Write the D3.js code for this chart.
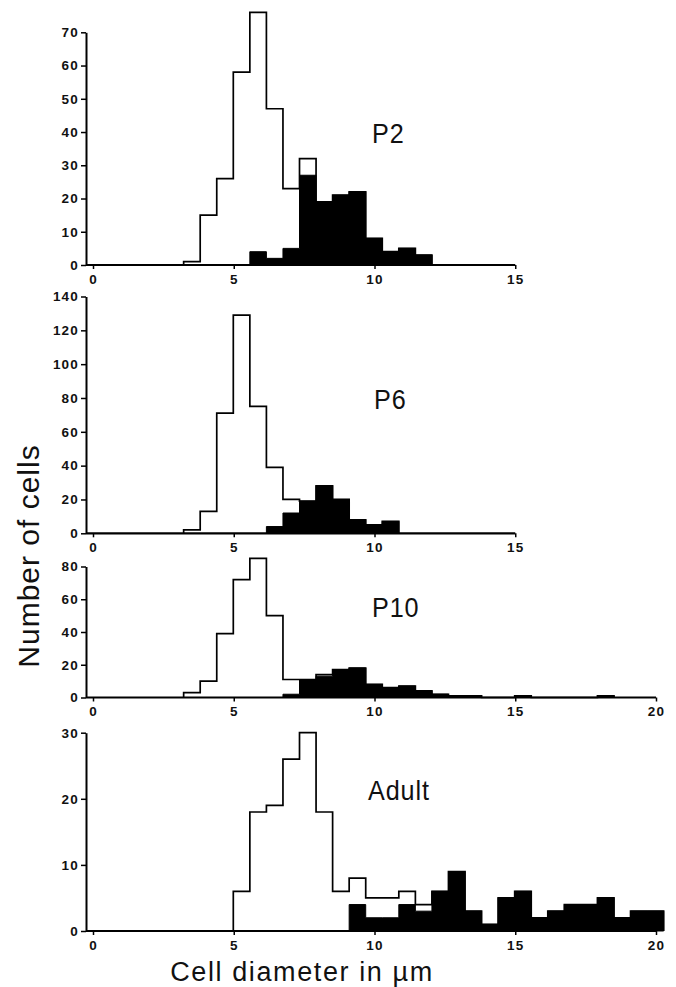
<!DOCTYPE html>
<html>
<head>
<meta charset="utf-8">
<script src="https://cdn.jsdelivr.net/npm/d3@7"></script>
<style>
  html, body { margin: 0; padding: 0; background: #fff; }
  svg { display: block; }
  .tick text { font-family: "Liberation Sans", Arial, sans-serif; font-size: 13.5px; font-weight: bold; letter-spacing: 1.2px; fill: #111; }
</style>
</head>
<body>
<div id="chart"></div>
<script>
// ---- Data (bins of 0.588 µm starting at 3.22 µm) ----
const binStart = 3.22;
const binWidth = 0.588;
const panelNames = ["P2", "P6", "P10", "Adult"];

// total cell counts per bin (open histogram)
const p2All    = [1, 15, 26, 58, 76, 47, 23, 32, 19, 21, 22, 8, 4, 5, 3];
const p6All    = [2, 13, 71, 129, 75, 39, 20, 19, 28, 20, 8, 5, 7];
const p10All   = [3, 10, 39, 72, 85, 50, 11, 11, 14, 17, 18, 8, 6, 7, 4, 2, 1, 1, 0, 0, 1, 0, 0, 0, 0, 1];
const adultAll = [0, 0, 0, 6, 18, 19, 26, 30, 18, 6, 8, 5, 5, 6, 4, 6, 9, 3, 1, 5, 6, 2, 3, 4, 4, 5, 2, 3, 3];

// large cells per bin (filled histogram)
const p2Large    = [0, 0, 0, 0, 4, 2, 5, 27, 19, 21, 22, 8, 4, 5, 3];
const p6Large    = [0, 0, 0, 0, 0, 4, 12, 19, 28, 20, 8, 5, 7];
const p10Large   = [0, 0, 0, 0, 0, 0, 2, 11, 13, 17, 18, 8, 6, 7, 4, 2, 1, 1, 0, 0, 1, 0, 0, 0, 0, 1];
const adultLarge = [0, 0, 0, 0, 0, 0, 0, 0, 0, 0, 4, 2, 2, 4, 3, 6, 9, 3, 1, 5, 6, 2, 3, 4, 4, 5, 2, 3, 3];

// axis ticks
const p2YTicks    = [0, 10, 20, 30, 40, 50, 60, 70];
const p6YTicks    = [0, 20, 40, 60, 80, 100, 120, 140];
const p10YTicks   = [0, 20, 40, 60, 80];
const adultYTicks = [0, 10, 20, 30];
const xTicks15 = [0, 5, 10, 15];
const xTicks20 = [0, 5, 10, 15, 20];

const xTitle = "Cell diameter in \u00b5m";
const yTitle = "Number of cells";

// ---- Layout ----
const W = 676, H = 987;
const svg = d3.select("#chart").append("svg").attr("width", W).attr("height", H);
const font = '"Liberation Sans", Arial, Helvetica, sans-serif';
const axisX = 86;

const x = d3.scaleLinear().domain([0, 20]).range([93, 656]);

const panels = [
  { name: panelNames[0], all: p2All, large: p2Large, yTicks: p2YTicks, xTicks: xTicks15, base: 265, top: 32.3, lx: 372, ly: 143 },
  { name: panelNames[1], all: p6All, large: p6Large, yTicks: p6YTicks, xTicks: xTicks15, base: 533.3, top: 296.5, lx: 374, ly: 409 },
  { name: panelNames[2], all: p10All, large: p10Large, yTicks: p10YTicks, xTicks: xTicks20, base: 697.5, top: 566.5, lx: 372, ly: 617 },
  { name: panelNames[3], all: adultAll, large: adultLarge, yTicks: adultYTicks, xTicks: xTicks20, base: 931, top: 732.7, lx: 368, ly: 800 }
];

function stepPoints(values) {
  let f = values.findIndex(v => v > 0);
  let l = values.length - 1;
  while (l > 0 && values[l] === 0) l--;
  const pts = [[binStart + f * binWidth, 0]];
  for (let i = f; i <= l; i++) pts.push([binStart + i * binWidth, values[i]]);
  pts.push([binStart + (l + 1) * binWidth, 0]);
  return pts;
}

panels.forEach(p => {
  const yMax = p.yTicks[p.yTicks.length - 1];
  const y = d3.scaleLinear().domain([0, yMax]).range([p.base, p.top]);
  const g = svg.append("g");

  // open histogram (all cells)
  const line = d3.line().x(d => x(d[0])).y(d => y(d[1])).curve(d3.curveStepAfter);
  g.append("path")
    .attr("d", line(stepPoints(p.all)))
    .attr("fill", "#fff")
    .attr("stroke", "#000")
    .attr("stroke-width", 1.7)
    .attr("stroke-linejoin", "miter");

  // filled histogram (large cells)
  const area = d3.area().x(d => x(d[0])).y0(y(0)).y1(d => y(d[1])).curve(d3.curveStepAfter);
  g.append("path")
    .attr("d", area(stepPoints(p.large)))
    .attr("fill", "#000")
    .attr("stroke", "#000")
    .attr("stroke-width", 1);

  // y axis
  const ya = g.append("g").attr("transform", `translate(${axisX},0)`)
    .call(d3.axisLeft(y).tickValues(p.yTicks).tickSize(5).tickPadding(2).tickSizeOuter(0));
  ya.select(".domain").attr("stroke-width", 2);
  ya.selectAll(".tick line").attr("stroke-width", 1.5);

  // x axis
  const xMax = p.xTicks[p.xTicks.length - 1];
  const xa = g.append("g").attr("transform", `translate(0,${p.base})`)
    .call(d3.axisBottom(x).tickValues(p.xTicks).tickSize(4).tickPadding(5).tickSizeOuter(0));
  xa.select(".domain").remove();
  xa.append("line").attr("x1", axisX).attr("x2", x(xMax)).attr("y1", 0).attr("y2", 0)
    .attr("stroke", "#000").attr("stroke-width", 2.2);
  xa.selectAll(".tick line").attr("stroke-width", 1.5);

  // panel label
  svg.append("text")
    .attr("transform", `translate(${p.lx},${p.ly}) scale(0.9,1)`)
    .attr("font-family", font).attr("font-size", 28)
    .attr("letter-spacing", 1)
    .attr("fill", "#111")
    .text(p.name);
});

// axis titles
svg.append("text")
  .attr("x", 302).attr("y", 981)
  .attr("text-anchor", "middle")
  .attr("font-family", font).attr("font-size", 27)
  .attr("letter-spacing", 1.6)
  .attr("fill", "#111")
  .text(xTitle);

svg.append("text")
  .attr("transform", "translate(39,556) rotate(-90)")
  .attr("text-anchor", "middle")
  .attr("font-family", font).attr("font-size", 30)
  .attr("letter-spacing", 1)
  .attr("fill", "#111")
  .text(yTitle);
</script>
</body>
</html>
